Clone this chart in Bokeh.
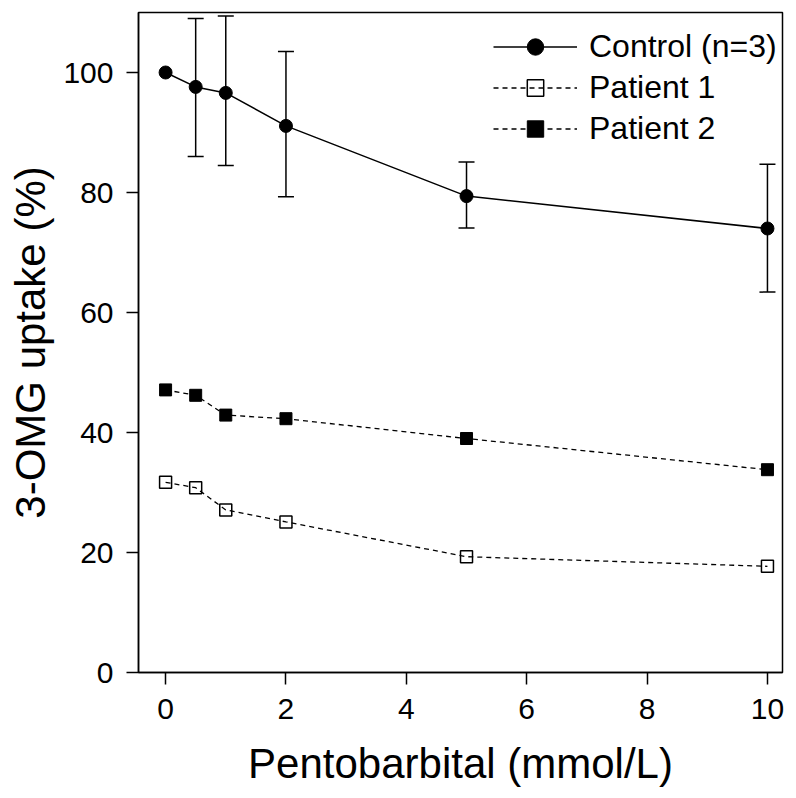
from bokeh.plotting import figure
from bokeh.models import ColumnDataSource, Whisker, Range1d, FixedTicker, Legend, LegendItem, TeeHead
from bokeh.embed import file_html
from bokeh.resources import INLINE

conc = [0, 0.5, 1, 2, 5, 10]
control = [100, 97.6, 96.6, 91.1, 79.4, 74.0]
control_upper = [None, 109.0, 109.4, 103.5, 85.1, 84.7]
control_lower = [None, 86.0, 84.5, 79.3, 74.1, 63.4]
patient1 = [31.7, 30.8, 27.1, 25.1, 19.3, 17.7]
patient2 = [47.1, 46.2, 42.9, 42.3, 39.0, 33.8]
x_ticks = [0, 2, 4, 6, 8, 10]
y_ticks = [0, 20, 40, 60, 80, 100]

FONT = "Liberation Sans"

p = figure(width=790, height=798, output_backend="svg", toolbar_location=None,
           x_range=Range1d(-0.45, 10.25), y_range=Range1d(0, 110),
           min_border_left=138, min_border_right=8, min_border_top=12, min_border_bottom=126)
p.grid.visible = False
p.outline_line_color = "black"
p.outline_line_width = 1.5
p.background_fill_color = "white"
p.border_fill_color = "white"

for ax in (p.xaxis[0], p.yaxis[0]):
    ax.axis_line_width = 1.5
    ax.major_tick_line_width = 1.5
    ax.major_tick_out = 12
    ax.major_tick_in = 0
    ax.minor_tick_line_color = None
    ax.major_label_text_font = FONT
    ax.major_label_text_font_size = "30px"
    ax.major_label_text_color = "black"
    ax.axis_label_text_font = FONT
    ax.axis_label_text_font_size = "42px"
    ax.axis_label_text_font_style = "normal"
    ax.axis_label_text_color = "black"

p.xaxis.ticker = FixedTicker(ticks=x_ticks)
p.yaxis.ticker = FixedTicker(ticks=y_ticks)
p.xaxis.axis_label = "Pentobarbital (mmol/L)"
p.yaxis.axis_label = "3-OMG uptake (%)"
p.xaxis.major_label_standoff = 14
p.yaxis.major_label_standoff = 13
p.xaxis.axis_label_standoff = 18
p.yaxis.axis_label_standoff = 6

# error bars
ex = [c for c, u in zip(conc, control_upper) if u is not None]
eu = [u for u in control_upper if u is not None]
el = [l for l in control_lower if l is not None]
esrc = ColumnDataSource(dict(x=ex, upper=eu, lower=el))
w = Whisker(source=esrc, base="x", upper="upper", lower="lower", dimension="height",
            line_color="black", line_width=1.5,
            upper_head=TeeHead(size=16, line_color="black", line_width=1.5),
            lower_head=TeeHead(size=16, line_color="black", line_width=1.5))
p.add_layout(w)

src = ColumnDataSource(dict(x=conc, c=control, p1=patient1, p2=patient2))

l1 = p.line("x", "p1", source=src, line_color="black", line_width=1.3, line_dash="5 4")
m1 = p.scatter("x", "p1", source=src, marker="square", size=12, line_color="black",
               line_width=1.5, fill_color=None)
l2 = p.line("x", "p2", source=src, line_color="black", line_width=1.3, line_dash="5 4")
m2 = p.scatter("x", "p2", source=src, marker="square", size=12, line_color="black",
               line_width=1, fill_color="black")
l0 = p.line("x", "c", source=src, line_color="black", line_width=1.5)
m0 = p.scatter("x", "c", source=src, marker="circle", size=13, line_color="black",
               fill_color="black")

legend = Legend(items=[
    LegendItem(label="Control (n=3)", renderers=[l0, m0]),
    LegendItem(label="Patient 1", renderers=[l1, m1]),
    LegendItem(label="Patient 2", renderers=[l2, m2]),
], location=(355, 523))
legend.border_line_color = None
legend.background_fill_alpha = 0
legend.label_text_font = FONT
legend.label_text_font_size = "32px"
legend.label_text_color = "black"
legend.glyph_width = 84
legend.glyph_height = 41
legend.spacing = 0
legend.label_standoff = 12
legend.padding = 0
legend.margin = 0
p.add_layout(legend)

open("out.html", "w").write(file_html(p, INLINE))
